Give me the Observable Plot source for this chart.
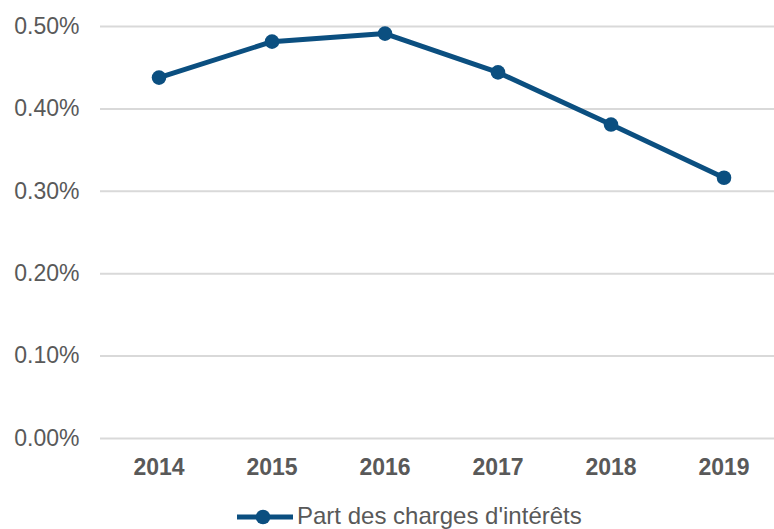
<!DOCTYPE html>
<html>
<head>
<meta charset="utf-8">
<script src="https://cdn.jsdelivr.net/npm/d3@7"></script>
<script src="https://cdn.jsdelivr.net/npm/@observablehq/plot@0.6"></script>
<style>
  body { margin: 0; background: #fff; font-family: "Liberation Sans", Arial, sans-serif; }
  #legend { position: relative; height: 29px; width: 774px; }
  #legend svg { position: absolute; left: 235px; top: 8px; }
  #legend span { position: absolute; left: 297px; top: 2px; font-size: 24px; color: #595959; line-height: 27px; white-space: nowrap; }
</style>
</head>
<body>
<div id="chart"></div>
<div id="legend">
  <svg width="62" height="18"><line x1="2" y1="9" x2="58" y2="9" stroke="#0B4F80" stroke-width="5"/><circle cx="28" cy="9" r="7.3" fill="#0B4F80"/></svg>
  <span>Part des charges d'intérêts</span>
</div>
<script>
const years = ["2014", "2015", "2016", "2017", "2018", "2019"];
const values = [0.438, 0.4816, 0.4914, 0.4443, 0.381, 0.3164];
const yTicks = [0, 0.1, 0.2, 0.3, 0.4, 0.5];
const seriesName = "Part des charges d'intérêts";

const data = years.map((y, i) => ({year: y, value: values[i]}));
const color = "#0B4F80";

const chart = Plot.plot({
  width: 774,
  height: 500,
  marginLeft: 100,
  marginRight: -8,
  marginTop: 26,
  marginBottom: 62,
  style: {fontFamily: "'Liberation Sans', Arial, sans-serif", fontSize: "23px", color: "#595959", background: "#fff"},
  x: {domain: years, type: "band", padding: 0, label: null, tickSize: 0, tickPadding: 20},
  y: {domain: [0, 0.5], ticks: yTicks, label: null, tickSize: 0, tickPadding: 21, tickFormat: d => d.toFixed(2) + "%"},
  marks: [
    Plot.ruleY(yTicks, {stroke: "#D9D9D9", strokeWidth: 2}),
    Plot.axisX({tickSize: 0, tickPadding: 20, fontWeight: "bold", fill: "#595959", label: null}),
    Plot.axisY({ticks: yTicks, tickSize: 0, tickPadding: 21, fill: "#595959", label: null, tickFormat: d => d.toFixed(2) + "%"}),
    Plot.line(data, {x: "year", y: "value", stroke: color, strokeWidth: 5}),
    Plot.dot(data, {x: "year", y: "value", r: 7.3, fill: color})
  ]
});
document.getElementById("chart").appendChild(chart);
</script>
</body>
</html>
